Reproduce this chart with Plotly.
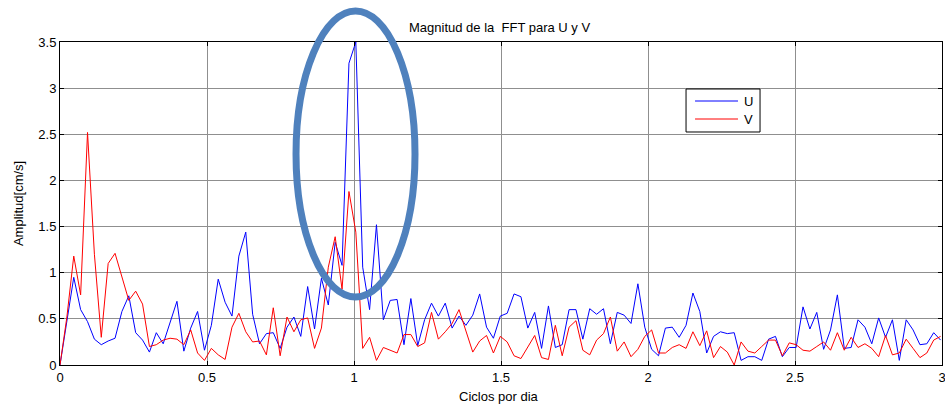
import plotly.graph_objects as go

# frequency step (cycles per day) between FFT bins
df = 0.0234
n_bins = 129
freq = [round(i * df, 4) for i in range(n_bins)]

u_mag = [0.0, 0.48, 0.95, 0.60, 0.47, 0.28, 0.22, 0.26, 0.29, 0.58,
         0.75, 0.35, 0.27, 0.14, 0.35, 0.23, 0.45, 0.69, 0.15, 0.40,
         0.58, 0.16, 0.43, 0.93, 0.68, 0.53, 1.18, 1.44, 0.55, 0.23,
         0.34, 0.35, 0.18, 0.41, 0.52, 0.31, 0.85, 0.39, 0.94, 0.65,
         1.33, 1.08, 3.27, 3.50, 1.06, 0.60, 1.52, 0.49, 0.70, 0.71,
         0.22, 0.72, 0.21, 0.49, 0.67, 0.53, 0.67, 0.40, 0.53, 0.43,
         0.54, 0.77, 0.41, 0.29, 0.53, 0.56, 0.77, 0.74, 0.40, 0.57,
         0.18, 0.64, 0.19, 0.22, 0.60, 0.60, 0.28, 0.61, 0.55, 0.61,
         0.23, 0.57, 0.54, 0.45, 0.88, 0.41, 0.17, 0.10, 0.40, 0.41,
         0.30, 0.43, 0.78, 0.58, 0.13, 0.31, 0.36, 0.34, 0.35, 0.05,
         0.09, 0.09, 0.05, 0.28, 0.31, 0.09, 0.19, 0.19, 0.63, 0.39,
         0.57, 0.17, 0.38, 0.76, 0.18, 0.19, 0.49, 0.41, 0.23, 0.51,
         0.30, 0.49, 0.05, 0.49, 0.38, 0.22, 0.23, 0.35, 0.27]

v_mag = [0.0, 0.52, 1.18, 0.76, 2.52, 1.20, 0.30, 1.10, 1.21, 0.96,
         0.70, 0.80, 0.66, 0.20, 0.22, 0.27, 0.29, 0.28, 0.22, 0.38,
         0.13, 0.05, 0.18, 0.11, 0.06, 0.41, 0.56, 0.36, 0.25, 0.26,
         0.11, 0.62, 0.10, 0.52, 0.36, 0.49, 0.51, 0.18, 0.40, 1.06,
         1.39, 0.82, 1.88, 1.44, 0.18, 0.30, 0.05, 0.19, 0.16, 0.13,
         0.33, 0.33, 0.20, 0.24, 0.57, 0.28, 0.36, 0.45, 0.60, 0.38,
         0.14, 0.26, 0.32, 0.13, 0.31, 0.25, 0.10, 0.07, 0.20, 0.32,
         0.08, 0.06, 0.43, 0.10, 0.41, 0.48, 0.16, 0.11, 0.27, 0.34,
         0.52, 0.15, 0.25, 0.09, 0.17, 0.31, 0.38, 0.13, 0.13, 0.19,
         0.22, 0.18, 0.36, 0.21, 0.37, 0.08, 0.20, 0.14, 0.00, 0.25,
         0.15, 0.13, 0.20, 0.27, 0.27, 0.10, 0.24, 0.22, 0.16, 0.15,
         0.20, 0.25, 0.16, 0.35, 0.16, 0.30, 0.19, 0.23, 0.18, 0.09,
         0.32, 0.11, 0.13, 0.28, 0.18, 0.08, 0.13, 0.27, 0.31]

x_ticks = [0, 0.5, 1, 1.5, 2, 2.5, 3]
x_tick_labels = ["0", "0.5", "1", "1.5", "2", "2.5", "3"]
y_ticks = [0, 0.5, 1, 1.5, 2, 2.5, 3, 3.5]
y_tick_labels = ["0", "0.5", "1", "1.5", "2", "2.5", "3", "3.5"]
series_names = ["U", "V"]
series_colors = ["#0000FF", "#FF0000"]

font_family = "Liberation Sans, Arial, sans-serif"

fig = go.Figure()
for name, vals, col in zip(series_names, [u_mag, v_mag], series_colors):
    fig.add_trace(go.Scatter(x=freq, y=vals, mode="lines", name=name,
                             line=dict(color=col, width=1)))

axis_common = dict(showline=True, linecolor="black", linewidth=1, mirror="ticks",
                   ticks="inside", ticklen=4, tickcolor="black",
                   showgrid=True, gridcolor="#8f8f8f", gridwidth=1,
                   zeroline=False, automargin=False, ticklabeloverflow="allow",
                   tickfont=dict(family=font_family, size=13, color="black"))

fig.update_layout(
    width=945, height=406,
    margin=dict(l=60, r=3, t=42, b=41, autoexpand=False),
    paper_bgcolor="white", plot_bgcolor="white",
    font=dict(family=font_family, size=13, color="black"),
    xaxis=dict(range=[0, 3], tickvals=x_ticks, ticktext=x_tick_labels, **axis_common),
    yaxis=dict(range=[0, 3.5], tickvals=y_ticks, ticktext=y_tick_labels, **axis_common),
    showlegend=False,
)

# title and axis titles
fig.add_annotation(text="Magnitud de la\u00a0 FFT para U y V", xref="paper", yref="paper",
                   x=0.498, y=1.046, xanchor="center", yanchor="middle",
                   showarrow=False, font=dict(size=13))
fig.add_annotation(text="Ciclos por dia", xref="paper", yref="paper",
                   x=0.498, y=-0.096, xanchor="center", yanchor="middle",
                   showarrow=False, font=dict(size=13))
fig.add_annotation(text="Amplitud[cm/s]", xref="paper", yref="paper",
                   x=-0.047, y=0.5, xanchor="center", yanchor="middle", textangle=-90,
                   showarrow=False, font=dict(size=13))

# legend box (drawn manually to match the compact MATLAB legend)
fig.add_shape(type="rect", xref="paper", yref="paper",
              x0=0.7098, x1=0.7937, y0=0.7214, y1=0.8545,
              line=dict(color="black", width=1), fillcolor="white", layer="above")
for name, col, ly in zip(series_names, series_colors, [0.8173, 0.7616]):
    fig.add_shape(type="line", xref="paper", yref="paper",
                  x0=0.7200, x1=0.7687, y0=ly, y1=ly,
                  line=dict(color=col, width=1), layer="above")
    fig.add_annotation(text=name, xref="paper", yref="paper",
                       x=0.7735, y=ly, xanchor="left", yanchor="middle",
                       showarrow=False, font=dict(size=13))

# highlight ellipse around the 1 cpd peak
fig.add_shape(type="circle", xref="paper", yref="paper",
              x0=0.2676, x1=0.4025, y0=0.2105, y1=1.096,
              line=dict(color="#4F81BD", width=7), layer="above")

fig.write_html("out.html", config={"displayModeBar": False},
               post_script="document.body.style.margin='0';document.body.style.overflow='hidden';")
